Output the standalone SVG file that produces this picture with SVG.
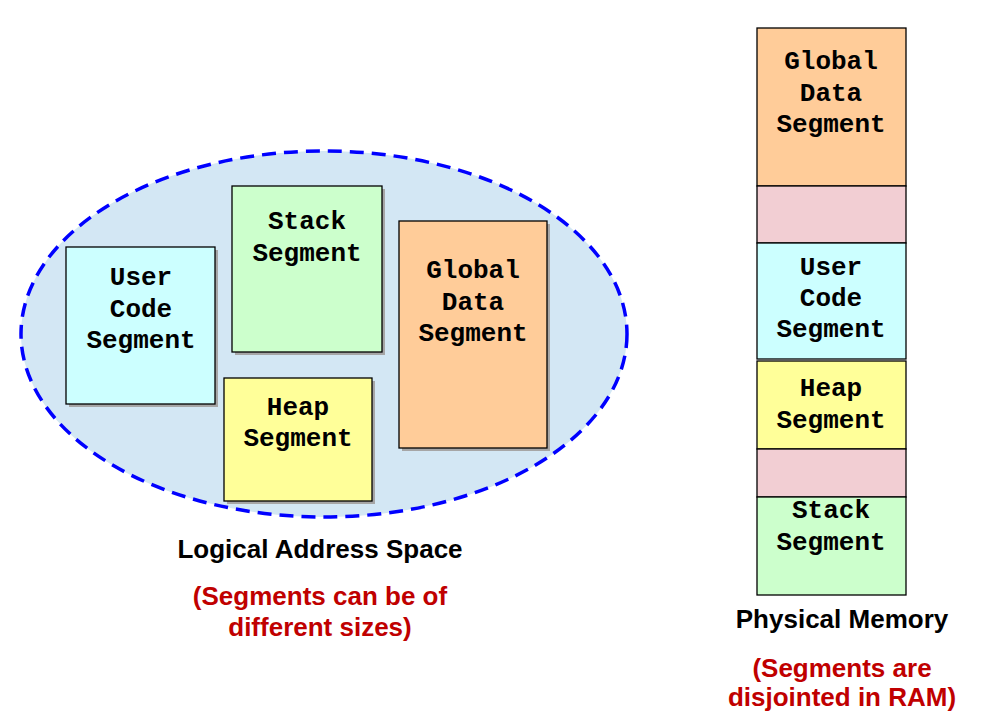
<svg xmlns="http://www.w3.org/2000/svg" width="997" height="716" viewBox="0 0 997 716">
<style>
.seg{stroke:#000;stroke-width:1.3}
.shadow{fill:#a6a6a6}
.mono{font-family:"Liberation Mono","Courier New",monospace;font-weight:bold;font-size:26px;fill:#000;text-anchor:middle}
.lbl{font-family:"Liberation Sans",Arial,sans-serif;font-weight:bold;font-size:26px;fill:#000;text-anchor:middle}
.red{fill:#c00000}
.cyan{fill:#ccffff}.green{fill:#ccffcc}.yellow{fill:#ffff99}.orange{fill:#ffcc99}.pink{fill:#f2ced3}
</style>
<rect width="997" height="716" fill="#fff"/>
<g id="logical-space">
<ellipse cx="324" cy="334" rx="303" ry="183" fill="#d3e7f4" stroke="#0000ff" stroke-width="3.5" stroke-dasharray="14 8"/>
</g>
<g id="l-user-code">
<rect class="shadow" x="69" y="250" width="149" height="157"/>
<rect class="seg cyan" x="66" y="247" width="149" height="157"/>
<text class="mono" x="141" y="285">User</text>
<text class="mono" x="141" y="317">Code</text>
<text class="mono" x="141" y="348">Segment</text>
</g>
<g id="l-stack">
<rect class="shadow" x="235" y="189" width="150" height="166"/>
<rect class="seg green" x="232" y="186" width="150" height="166"/>
<text class="mono" x="307" y="229">Stack</text>
<text class="mono" x="307" y="261">Segment</text>
</g>
<g id="l-heap">
<rect class="shadow" x="227" y="381" width="148" height="123"/>
<rect class="seg yellow" x="224" y="378" width="148" height="123"/>
<text class="mono" x="298" y="415">Heap</text>
<text class="mono" x="298" y="446">Segment</text>
</g>
<g id="l-global">
<rect class="shadow" x="402" y="224" width="148" height="227"/>
<rect class="seg orange" x="399" y="221" width="148" height="227"/>
<text class="mono" x="473" y="278">Global</text>
<text class="mono" x="473" y="310">Data</text>
<text class="mono" x="473" y="341">Segment</text>
</g>
<g id="logical-label">
<text class="lbl" x="320" y="558">Logical Address Space</text>
<text class="lbl red" x="320" y="605">(Segments can be of</text>
<text class="lbl red" x="320" y="636">different sizes)</text>
</g>
<g id="p-global">
<rect class="seg orange" x="757" y="28" width="149" height="158"/>
<text class="mono" x="831" y="69">Global</text>
<text class="mono" x="831" y="101">Data</text>
<text class="mono" x="831" y="132">Segment</text>
</g>
<g id="p-free1">
<rect class="seg pink" x="757" y="186" width="149" height="57"/>
</g>
<g id="p-user-code">
<rect class="seg cyan" x="757" y="243" width="149" height="116"/>
<text class="mono" x="831" y="275">User</text>
<text class="mono" x="831" y="306">Code</text>
<text class="mono" x="831" y="337">Segment</text>
</g>
<g id="p-heap">
<rect class="seg yellow" x="757" y="361" width="149" height="88"/>
<text class="mono" x="831" y="396">Heap</text>
<text class="mono" x="831" y="428">Segment</text>
</g>
<g id="p-free2">
<rect class="seg pink" x="757" y="449" width="149" height="48"/>
</g>
<g id="p-stack">
<rect class="seg green" x="757" y="497" width="149" height="98"/>
<text class="mono" x="831" y="518">Stack</text>
<text class="mono" x="831" y="550">Segment</text>
</g>
<g id="physical-label">
<text class="lbl" x="842" y="628">Physical Memory</text>
<text class="lbl red" x="842" y="677">(Segments are</text>
<text class="lbl red" x="842" y="706">disjointed in RAM)</text>
</g>
<g id="connectors"/>
</svg>
